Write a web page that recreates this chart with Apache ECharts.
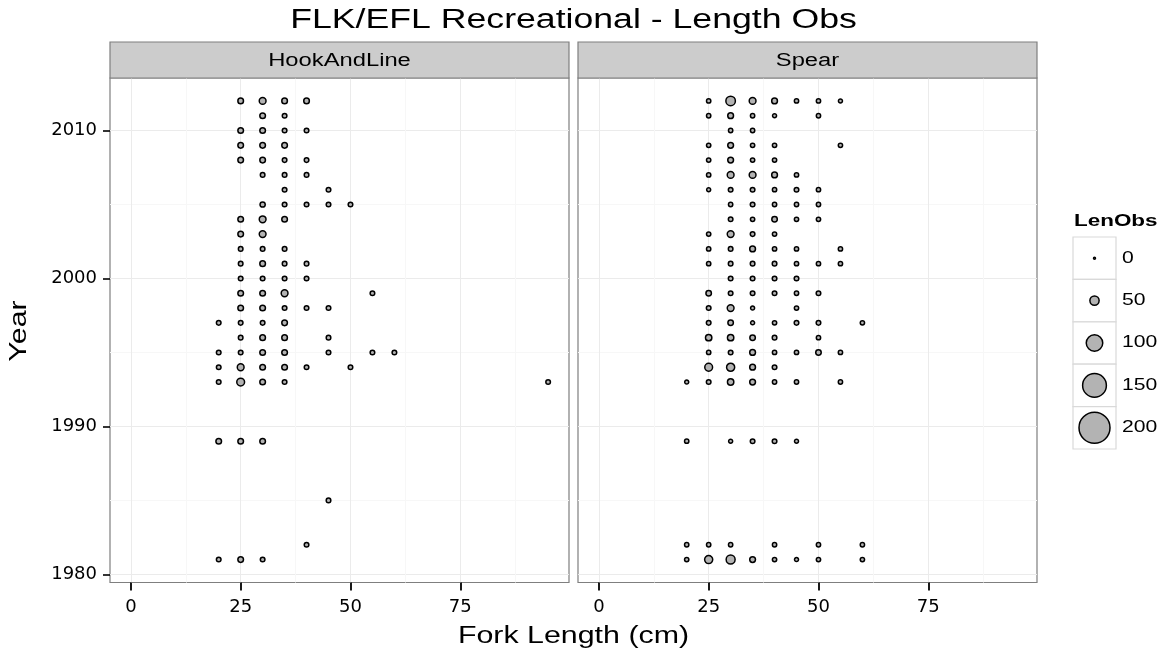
<!DOCTYPE html>
<html><head><meta charset="utf-8">
<script src="https://cdn.jsdelivr.net/npm/echarts@6/dist/echarts.min.js"></script>
<style>html,body{margin:0;padding:0;background:#fff}#c{width:1166px;height:660px}</style>
</head><body><div id="c"></div>
<script>
// ---- data ----
const panels = ['HookAndLine', 'Spear'];
const xTicks = [0, 25, 50, 75];
const xMinor = [12.5, 37.5, 62.5, 87.5];
const yTicks = [1980, 1990, 2000, 2010];
const yMinor = [1985, 1995, 2005];
const legendBreaks = [0, 50, 100, 150, 200];
// [fork length (cm), year, LenObs]
const hookAndLine = [
  [25,2012,25],[30,2012,33],[35,2012,25],[40,2012,25],
  [30,2011,25],[35,2011,18],
  [25,2010,25],[30,2010,25],[35,2010,18],[40,2010,18],
  [25,2009,25],[30,2009,25],[35,2009,25],
  [25,2008,25],[30,2008,25],[35,2008,18],[40,2008,18],
  [30,2007,18],[35,2007,18],[40,2007,18],
  [35,2006,18],[45,2006,18],
  [30,2005,22],[35,2005,18],[40,2005,18],[45,2005,18],[50,2005,18],
  [25,2004,25],[30,2004,33],[35,2004,25],
  [25,2003,25],[30,2003,33],
  [25,2002,18],[30,2002,18],[35,2002,18],
  [25,2001,18],[30,2001,25],[35,2001,18],[40,2001,18],
  [25,2000,18],[30,2000,18],[35,2000,18],[40,2000,18],
  [25,1999,25],[30,1999,25],[35,1999,33],[55,1999,18],
  [25,1998,25],[30,1998,25],[35,1998,18],[40,1998,18],[45,1998,18],
  [20,1997,18],[25,1997,18],[30,1997,18],[35,1997,25],
  [25,1996,18],[30,1996,25],[35,1996,25],[45,1996,18],
  [20,1995,18],[25,1995,18],[30,1995,25],[35,1995,25],[45,1995,18],[55,1995,18],[60,1995,18],
  [20,1994,18],[25,1994,33],[30,1994,25],[35,1994,25],[40,1994,18],[50,1994,18],
  [20,1993,18],[25,1993,40],[30,1993,25],[35,1993,18],[95,1993,18],
  [20,1989,25],[25,1989,25],[30,1989,25],
  [45,1985,18],
  [40,1982,18],
  [20,1981,18],[25,1981,25],[30,1981,18]
];
const spear = [
  [25,2012,16],[30,2012,52],[35,2012,33],[40,2012,26],[45,2012,16],[50,2012,16],[55,2012,14],
  [25,2011,16],[30,2011,26],[35,2011,16],[40,2011,14],[50,2011,16],
  [30,2010,16],[35,2010,16],
  [25,2009,16],[30,2009,26],[35,2009,16],[40,2009,16],[55,2009,16],
  [25,2008,16],[30,2008,26],[35,2008,16],[40,2008,16],
  [25,2007,16],[30,2007,33],[35,2007,33],[40,2007,26],[45,2007,16],
  [25,2006,14],[30,2006,18],[35,2006,18],[40,2006,16],[45,2006,18],[50,2006,16],
  [30,2005,16],[35,2005,18],[40,2005,16],[45,2005,16],[50,2005,16],
  [30,2004,18],[35,2004,16],[40,2004,24],[45,2004,16],[50,2004,16],
  [25,2003,16],[30,2003,33],[35,2003,18],[40,2003,16],
  [25,2002,16],[30,2002,18],[35,2002,26],[40,2002,16],[45,2002,16],[55,2002,16],
  [25,2001,16],[30,2001,18],[35,2001,18],[40,2001,18],[45,2001,16],[50,2001,16],[55,2001,16],
  [30,2000,18],[35,2000,18],[40,2000,18],[45,2000,18],
  [25,1999,24],[30,1999,18],[35,1999,18],[40,1999,18],[45,1999,16],[50,1999,18],
  [25,1998,18],[30,1998,33],[35,1998,14],[45,1998,16],
  [25,1997,18],[30,1997,24],[35,1997,14],[40,1997,16],[45,1997,18],[50,1997,18],[60,1997,16],
  [25,1996,30],[30,1996,30],[35,1996,24],[40,1996,18],[50,1996,16],
  [25,1995,16],[30,1995,18],[35,1995,26],[40,1995,16],[45,1995,16],[50,1995,24],[55,1995,16],
  [25,1994,40],[30,1994,42],[35,1994,26],[40,1994,18],
  [20,1993,14],[25,1993,18],[30,1993,30],[35,1993,26],[40,1993,16],[45,1993,16],[55,1993,16],
  [20,1989,16],[30,1989,14],[35,1989,18],[40,1989,18],[45,1989,14],
  [20,1982,16],[25,1982,16],[30,1982,16],[40,1982,16],[50,1982,16],[60,1982,16],
  [20,1981,16],[25,1981,42],[30,1981,48],[35,1981,26],[40,1981,16],[45,1981,14],[50,1981,16],[60,1981,16]
];
const panelData = [hookAndLine, spear];

// ---- styling / layout ----
const FONT = 'Liberation Sans';
const TICKFONT = 'DejaVu Sans';
const SX = 1.32; // horizontal text stretch seen in the reference
const symSize = v => 2 + 0.145 * v;
const gridLeft = [110, 578], gridTop = 78, gridW = 459, gridH = 504.5;
const xRange = [-4.75, 99.75], yRange = [1979.45, 2013.55];

function stext(x, y, text, font, align) {
  return {type: 'text', x: x, y: y, scaleX: SX, z: 12,
    style: {text: text, font: font, fill: '#000', align: align || 'center', verticalAlign: 'middle'}};
}

const grids = [], xAxes = [], yAxes = [], series = [], graphics = [];
panels.forEach((name, i) => {
  grids.push({left: gridLeft[i], top: gridTop, width: gridW, height: gridH, show: true,
    backgroundColor: '#fff', borderColor: '#7F7F7F', borderWidth: 1.2});
  xAxes.push({type: 'value', gridIndex: i, min: xRange[0], max: xRange[1], position: 'bottom',
    axisLine: {show: false, onZero: false},
    axisTick: {show: true, customValues: xTicks, length: 8, lineStyle: {color: '#000', width: 1.8}},
    axisLabel: {show: true, customValues: xTicks, color: '#000', fontSize: 18, fontFamily: TICKFONT, margin: 16,
      formatter: v => String(v)},
    splitLine: {show: true, customValues: xTicks, lineStyle: {color: '#EBEBEB', width: 1}}});
  xAxes.push({type: 'value', gridIndex: i, min: xRange[0], max: xRange[1], position: 'top',
    axisLine: {show: false, onZero: false},
    axisTick: {show: false, customValues: xMinor},
    axisLabel: {show: false, customValues: xMinor},
    splitLine: {show: true, customValues: xMinor, lineStyle: {color: '#F7F7F7', width: 1}}});
  yAxes.push({type: 'value', gridIndex: i, min: yRange[0], max: yRange[1], position: 'left',
    axisLine: {show: false, onZero: false},
    axisTick: {show: i === 0, customValues: yTicks, length: 7, lineStyle: {color: '#000', width: 1.6}},
    axisLabel: {show: i === 0, customValues: yTicks, color: '#000', fontSize: 18, fontFamily: TICKFONT, margin: 13,
      formatter: v => String(v)},
    splitLine: {show: true, customValues: yTicks, lineStyle: {color: '#EBEBEB', width: 1}}});
  yAxes.push({type: 'value', gridIndex: i, min: yRange[0], max: yRange[1], position: 'right',
    axisLine: {show: false, onZero: false},
    axisTick: {show: false, customValues: yMinor},
    axisLabel: {show: false, customValues: yMinor},
    splitLine: {show: true, customValues: yMinor, lineStyle: {color: '#F7F7F7', width: 1}}});
  series.push({type: 'scatter', name: name, xAxisIndex: 2 * i, yAxisIndex: 2 * i, z: 3,
    data: panelData[i], symbol: 'circle',
    symbolSize: d => symSize(d[2]),
    itemStyle: {color: '#B3B3B3', borderColor: '#000', borderWidth: 1.5, opacity: 1},
    emphasis: {disabled: true}, animation: false});
  // facet strip
  graphics.push({type: 'rect', shape: {x: gridLeft[i], y: 42, width: gridW, height: gridTop - 42},
    style: {fill: '#CCCCCC', stroke: '#7F7F7F', lineWidth: 1.2}, z: 10});
  graphics.push(stext(gridLeft[i] + gridW / 2, (42 + gridTop) / 2 + 1, name, '18px "' + FONT + '"'));
});

// plot title and axis titles
graphics.push(stext(573.5, 21, 'FLK/EFL Recreational - Length Obs', '27px "' + FONT + '"'));
graphics.push(stext(573.5, 637, 'Fork Length (cm)', '23px "' + FONT + '"'));
graphics.push({type: 'text', x: 20, y: 331, rotation: Math.PI / 2, scaleX: SX, z: 12,
  style: {text: 'Year', font: '23px "' + FONT + '"', fill: '#000', align: 'center', verticalAlign: 'middle'}});

// size legend
graphics.push(stext(1074, 221, 'LenObs', 'bold 17px "' + FONT + '"', 'left'));
const keyTop = 237, keyH = 42.4, keyX = 1073, keyW = 43;
legendBreaks.forEach((b, k) => {
  const cy = keyTop + keyH * k + keyH / 2;
  graphics.push({type: 'rect', shape: {x: keyX, y: keyTop + keyH * k, width: keyW, height: keyH},
    style: {fill: '#fff', stroke: '#D9D9D9', lineWidth: 1.2}});
  graphics.push({type: 'circle', shape: {cx: keyX + keyW / 2, cy: cy, r: symSize(b) / 2},
    style: {fill: '#B3B3B3', stroke: '#000', lineWidth: 1.5}, z: 2});
  graphics.push(stext(1122, cy, String(b), '16px "' + FONT + '"', 'left'));
});

const chart = echarts.init(document.getElementById('c'), null, {renderer: 'canvas'});
chart.setOption({
  backgroundColor: '#fff',
  animation: false,
  grid: grids, xAxis: xAxes, yAxis: yAxes, series: series, graphic: graphics
});
</script></body></html>
